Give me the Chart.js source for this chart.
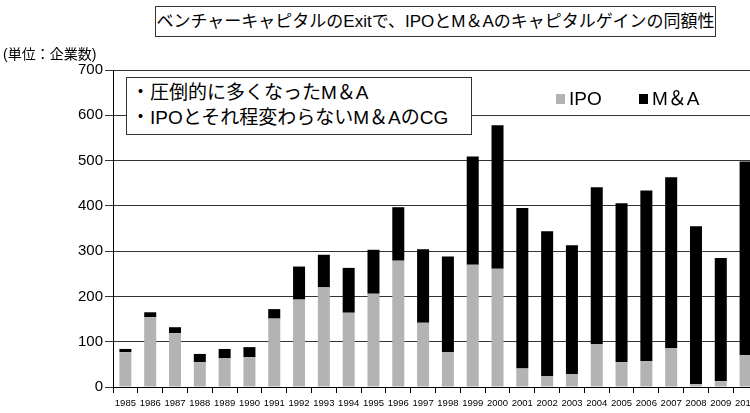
<!DOCTYPE html>
<html lang="ja">
<head>
<meta charset="utf-8">
<script src="https://cdn.jsdelivr.net/npm/chart.js@4"></script>
<style>
  html, body { margin: 0; padding: 0; background: #fff; overflow: hidden; }
  body { width: 750px; height: 413px; position: relative;
         font-family: "Liberation Sans", "Noto Sans CJK JP", sans-serif; color: #000; }
  #wrap { position: absolute; left: 0; top: 0; width: 780px; height: 413px; }
  #title { position: absolute; left: 155px; top: 6px; width: 559px; height: 29px;
           border: 1px solid #333; font-size: 17px; line-height: 29px; text-align: center;
           white-space: nowrap; background: #fff; }
  #unit { position: absolute; left: 3px; top: 43px; font-size: 14px; white-space: nowrap; }
  #note { position: absolute; left: 126px; top: 77px; width: 340px; height: 54px;
          border: 1px solid #333; background: #fff; font-size: 19px; line-height: 25px;
          padding: 2px 0 0 4px; box-sizing: content-box; white-space: nowrap; }
</style>
</head>
<body>
<div id="wrap"><canvas id="c"></canvas></div>
<div id="title">ベンチャーキャピタルのExitで、IPOとM＆Aのキャピタルゲインの同額性</div>
<div id="unit">(単位：企業数)</div>
<div id="note">・圧倒的に多くなったM＆A<br>・IPOとそれ程変わらないM＆AのCG</div>
<script>
// Exits of venture-capital-backed companies per year (number of companies)
const years = ['1985','1986','1987','1988','1989','1990','1991','1992','1993','1994',
               '1995','1996','1997','1998','1999','2000','2001','2002','2003','2004',
               '2005','2006','2007','2008','2009','2010'];
const ipoCounts = [77,154,119,55,64,66,151,193,220,164,206,279,142,77,270,261,41,24,28,95,55,57,86,6,13,70];
const maCounts  = [7,11,13,18,20,22,21,73,72,99,97,118,162,211,239,317,354,320,285,346,351,377,377,349,272,428];
const yTicks = [0,100,200,300,400,500,600,700];

// Legend drawn as small squares followed by the series name, top-right of the plot
const squareLegend = {
  id: 'squareLegend',
  afterDraw(chart) {
    const ctx = chart.ctx;
    const spots = [{x: 556, label: 'IPO'}, {x: 639, label: 'M＆A'}];
    ctx.save();
    ctx.font = '19px "Liberation Sans", "Noto Sans CJK JP", sans-serif';
    ctx.textBaseline = 'middle';
    chart.data.datasets.forEach((ds, i) => {
      const s = spots[i];
      ctx.fillStyle = ds.backgroundColor;
      ctx.fillRect(s.x, 94, 9, 10);
      ctx.fillStyle = '#000';
      ctx.fillText(ds.label === 'M&A' ? 'M＆A' : ds.label, s.x + 13, 100);
    });
    ctx.restore();
  }
};

new Chart(document.getElementById('c'), {
  type: 'bar',
  data: {
    labels: years,
    datasets: [
      { label: 'IPO', data: ipoCounts, backgroundColor: '#b3b3b3',
        categoryPercentage: 1, barPercentage: 0.484 },
      { label: 'M&A', data: maCounts, backgroundColor: '#000000',
        categoryPercentage: 1, barPercentage: 0.484 }
    ]
  },
  options: {
    responsive: true,
    maintainAspectRatio: false,
    animation: false,
    layout: { padding: { left: 0, top: 70, right: 22, bottom: 0 } },
    plugins: { legend: { display: false }, tooltip: { enabled: false } },
    scales: {
      x: {
        stacked: true,
        grid: { drawOnChartArea: false, drawTicks: true, tickLength: 6, color: '#000', offset: true },
        border: { color: '#000', width: 1 },
        ticks: { color: '#000', font: { size: 9.5, family: '"Liberation Sans", sans-serif' },
                 maxRotation: 0, autoSkip: false, padding: 5 },
        afterFit(scale) { scale.height = 26; }
      },
      y: {
        stacked: true,
        min: 0, max: 700,
        afterBuildTicks(scale) { scale.ticks = yTicks.map(v => ({ value: v })); },
        grid: { color: '#333', lineWidth: 1, drawTicks: true, tickLength: 8 },
        border: { color: '#000', width: 1 },
        ticks: { color: '#000', font: { size: 15, family: '"Liberation Sans", sans-serif' }, padding: 2 },
        afterFit(scale) { scale.width = 113; }
      }
    }
  },
  plugins: [squareLegend]
});
</script>
</body>
</html>
